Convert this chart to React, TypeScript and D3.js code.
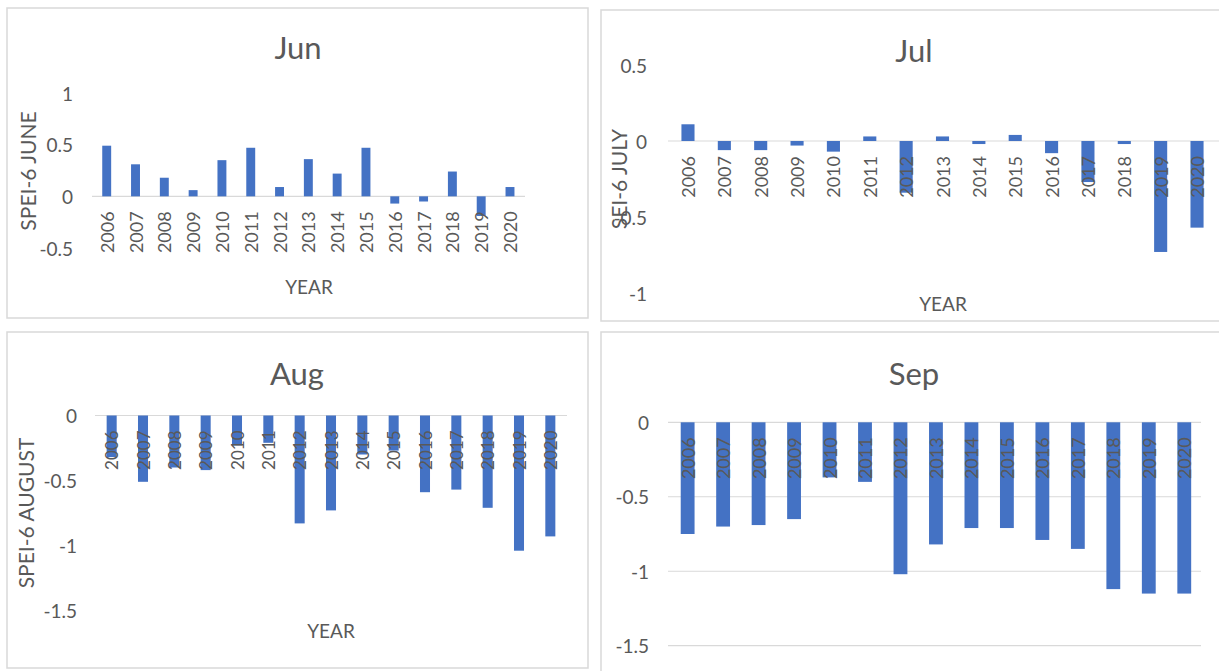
import React from "react";
import * as d3 from "d3";

const years = ["2006", "2007", "2008", "2009", "2010", "2011", "2012", "2013", "2014", "2015", "2016", "2017", "2018", "2019", "2020"];

const junValues = [0.49, 0.31, 0.18, 0.06, 0.35, 0.47, 0.09, 0.36, 0.22, 0.47, -0.07, -0.05, 0.24, -0.19, 0.09];
const julValues = [0.11, -0.06, -0.06, -0.03, -0.07, 0.03, -0.34, 0.03, -0.02, 0.04, -0.08, -0.27, -0.02, -0.73, -0.57];
const augValues = [-0.32, -0.51, -0.4, -0.42, -0.23, -0.21, -0.83, -0.73, -0.3, -0.27, -0.59, -0.57, -0.71, -1.04, -0.93];
const sepValues = [-0.75, -0.7, -0.69, -0.65, -0.37, -0.4, -1.02, -0.82, -0.71, -0.71, -0.79, -0.85, -1.12, -1.15, -1.15];

const junTicks = [-0.5, 0, 0.5, 1];
const julTicks = [-1, -0.5, 0, 0.5];
const augTicks = [-1.5, -1, -0.5, 0];
const sepTicks = [-1.5, -1, -0.5, 0];

const BAR = "#4472C4";
const TEXT = "#595959";
const GRID = "#D9D9D9";
const FONT = "Lato, 'Open Sans', sans-serif";

interface PanelProps {
  title: string;
  values: number[];
  ticks: number[];
  yTitle?: string;
  xTitle?: string;
  box: [number, number, number, number]; // border x, y, w, h
  titlePos: [number, number];
  xRange: [number, number];
  yDomain: [number, number];
  yRange: [number, number];
  barRatio: number;
  tickRight: number;
  lineX: [number, number];
  gridAll?: boolean;
  yTitlePos?: [number, number];
  xTitlePos?: [number, number];
  labelSize?: number;
}

function Panel(p: PanelProps) {
  const x = d3
    .scaleBand<string>()
    .domain(years)
    .range(p.xRange)
    .paddingInner(1 - p.barRatio)
    .paddingOuter((1 - p.barRatio) / 2);
  const y = d3.scaleLinear().domain(p.yDomain).range(p.yRange);
  const y0 = y(0);
  // excel style: plain hyphen for negatives
  const fmt = (v: number) => String(v);
  const gridVals = p.gridAll ? p.ticks : [0];

  return (
    <g>
      <rect x={p.box[0]} y={p.box[1]} width={p.box[2]} height={p.box[3]} fill="#fff" stroke={GRID} strokeWidth={1.5} />
      <text x={p.titlePos[0]} y={p.titlePos[1]} textAnchor="middle" dominantBaseline="central" fontSize={31} fill={TEXT} fontFamily={FONT}>
        {p.title}
      </text>
      {gridVals.map((v) => (
        <line key={"g" + v} x1={p.lineX[0]} x2={p.lineX[1]} y1={y(v)} y2={y(v)} stroke={GRID} strokeWidth={1.2} />
      ))}
      {p.ticks.map((v) => (
        <text key={"t" + v} x={p.tickRight} y={y(v)} textAnchor="end" dominantBaseline="central" fontSize={19} fill={TEXT} fontFamily={FONT}>
          {fmt(v)}
        </text>
      ))}
      {p.values.map((v, i) => {
        const yr = years[i];
        return (
          <rect
            key={"b" + yr}
            x={x(yr)}
            width={x.bandwidth()}
            y={Math.min(y(v), y0)}
            height={Math.abs(y(v) - y0)}
            fill={BAR}
          />
        );
      })}
      {years.map((yr) => {
        const cx = (x(yr) as number) + x.bandwidth() / 2;
        const ty = y0 + 15;
        return (
          <text
            key={"l" + yr}
            transform={`translate(${cx},${ty}) rotate(-90)`}
            textAnchor="end"
            dominantBaseline="central"
            fontSize={p.labelSize ?? 18}
            fill={TEXT}
            fontFamily={FONT}
          >
            {yr}
          </text>
        );
      })}
      {p.yTitle && p.yTitlePos && (
        <text
          transform={`translate(${p.yTitlePos[0]},${p.yTitlePos[1]}) rotate(-90)`}
          textAnchor="middle"
          dominantBaseline="central"
          fontSize={21}
          fill={TEXT}
          fontFamily={FONT}
        >
          {p.yTitle}
        </text>
      )}
      {p.xTitle && p.xTitlePos && (
        <text x={p.xTitlePos[0]} y={p.xTitlePos[1]} textAnchor="middle" dominantBaseline="central" fontSize={19} fill={TEXT} fontFamily={FONT}>
          {p.xTitle}
        </text>
      )}
    </g>
  );
}

export default function App() {
  return (
    <svg width={1219} height={671} style={{ position: "absolute", left: 0, top: 0, background: "#fff" }}>
      <rect width={1219} height={671} fill="#fff" />
      <Panel
        title="Jun"
        values={junValues}
        ticks={junTicks}
        yTitle="SPEI-6 JUNE"
        xTitle="YEAR"
        box={[7, 8, 581, 310]}
        titlePos={[298, 47]}
        xRange={[92.3, 524.4]}
        yDomain={[-0.5, 1]}
        yRange={[248, 93]}
        barRatio={0.31}
        tickRight={73}
        lineX={[92, 525]}
        yTitlePos={[27, 171]}
        xTitlePos={[309, 286]}
      />
      <Panel
        title="Jul"
        values={julValues}
        ticks={julTicks}
        yTitle="SEI-6 JULY"
        xTitle="YEAR"
        box={[601, 10, 640, 311]}
        titlePos={[914, 50]}
        xRange={[669.8, 1215.2]}
        yDomain={[-1, 0.5]}
        yRange={[293, 65]}
        barRatio={0.36}
        tickRight={647}
        lineX={[668, 1230]}
        yTitlePos={[618, 179]}
        xTitlePos={[943, 303]}
      />
      <Panel
        title="Aug"
        values={augValues}
        ticks={augTicks}
        yTitle="SPEI-6 AUGUST"
        xTitle="YEAR"
        box={[7, 332, 581, 336]}
        titlePos={[297, 373]}
        xRange={[96, 566]}
        yDomain={[-1.5, 0]}
        yRange={[610.5, 415.5]}
        barRatio={0.32}
        tickRight={77}
        lineX={[95, 567]}
        yTitlePos={[25, 513]}
        xTitlePos={[331, 630]}
        labelSize={17}
      />
      <Panel
        title="Sep"
        values={sepValues}
        ticks={sepTicks}
        box={[601, 332, 640, 360]}
        titlePos={[914, 373]}
        xRange={[669.9, 1202]}
        yDomain={[-1.5, 0]}
        yRange={[645.7, 422.3]}
        barRatio={0.39}
        tickRight={649}
        lineX={[668, 1201]}
        gridAll
      />
    </svg>
  );
}
